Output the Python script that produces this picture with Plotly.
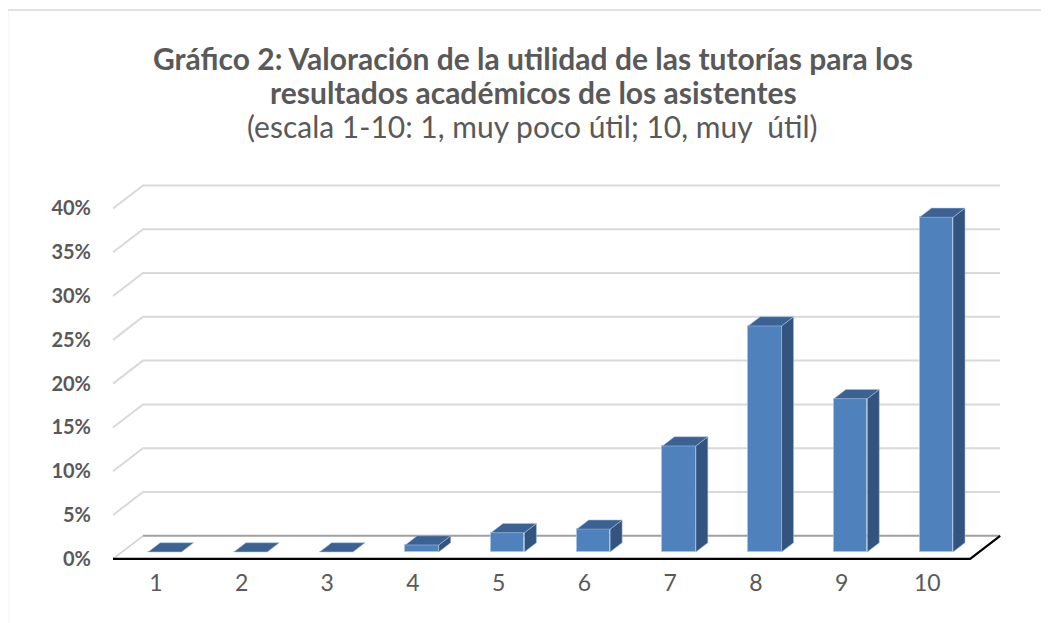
import plotly.graph_objects as go

# ---- data ----
categories = [1, 2, 3, 4, 5, 6, 7, 8, 9, 10]
cat_labels = ["1", "2", "3", "4", "5", "6", "7", "8", "9", "10"]
values = [0.0, 0.0, 0.0, 0.8, 2.2, 2.6, 12.1, 25.8, 17.5, 38.2]
y_ticks = [0, 5, 10, 15, 20, 25, 30, 35, 40]
y_tick_labels = ["0%", "5%", "10%", "15%", "20%", "25%", "30%", "35%", "40%"]

title_1 = "Gráfico 2: Valoración de la utilidad de las tutorías para los"
title_2 = "resultados académicos de los asistentes"
title_3 = "(escala 1-10: 1, muy poco útil; 10, muy  útil)"

# ---- oblique projection (style constants) ----
DX, DY = 0.35, 2.63          # full depth offset in axis units
F1, F2 = 0.30, 0.70          # bar front / back depth fractions
HW = 0.195                   # bar half width
X0, X1 = 0.5, 10.5           # floor extent (front)

FRONT = "#4F81BD"
TOP = "#3B6293"
SIDE = "#33547F"
TXT = "#595959"
EDGE = "rgba(170,195,225,0.7)"

fig = go.Figure()

shapes = []
# back wall gridlines + left wall diagonals (below the bars)
for v in y_ticks[1:]:
    shapes.append(dict(type="path", xref="x", yref="y", layer="below",
                       path=f"M{X0},{v} L{X0 + DX},{v + DY} L{X1 + DX},{v + DY}",
                       line=dict(color="#D9D9D9", width=2)))
# floor
shapes.append(dict(type="path", xref="x", yref="y", layer="below",
                   path=f"M{X0},0 L{X0 + DX},{DY}",
                   line=dict(color="#D0D0D0", width=1.5)))
shapes.append(dict(type="path", xref="x", yref="y", layer="below",
                   path=f"M{X0 + DX},{DY} L{X1 + DX},{DY}",
                   line=dict(color="#A0A0A0", width=2)))
shapes.append(dict(type="path", xref="x", yref="y", layer="below",
                   path=f"M{X0},0 L{X1},0 L{X1 + DX},{DY}",
                   line=dict(color="#000000", width=2.2)))

# bars
fx, fy = F1 * DX, F1 * DY
ddx, ddy = (F2 - F1) * DX, (F2 - F1) * DY
sx, sy, tx, ty = [], [], [], []
for c, v in zip(categories, values):
    xl, xr = c - HW + fx, c + HW + fx
    yb, yt = fy, fy + v
    if v > 0:
        sx += [xr, xr, xr + ddx, xr + ddx, xr, None]
        sy += [yb, yt, yt + ddy, yb + ddy, yb, None]
    tx += [xl, xr, xr + ddx, xl + ddx, xl, None]
    ty += [yt, yt, yt + ddy, yt + ddy, yt, None]

fig.add_trace(go.Bar(x=[c + fx for c in categories], y=values, base=fy,
                     width=2 * HW, marker=dict(color=FRONT, line=dict(color=EDGE, width=1)),
                     showlegend=False, hovertemplate="%{y:.1f}%<extra></extra>"))
fig.add_trace(go.Scatter(x=sx, y=sy, mode="lines", fill="toself",
                         fillcolor=SIDE, line=dict(color=EDGE, width=0.8),
                         hoverinfo="skip", showlegend=False))
fig.add_trace(go.Scatter(x=tx, y=ty, mode="lines", fill="toself",
                         fillcolor=TOP, line=dict(color=EDGE, width=0.8),
                         hoverinfo="skip", showlegend=False))

# layout (screen pixel targets; the page has an 8px body margin)
OFF = 8
W, H = 1049, 623
L, T = 104 - OFF, 178 - OFF
pw, ph = 900, 394
R, B = W - L - pw, H - T - ph

def px_x(p):
    return (p - OFF - L) / pw

def px_y(p):
    return (T + ph - (p - OFF)) / ph

shapes += [
    dict(type="line", xref="paper", yref="paper", x0=px_x(7.5), x1=px_x(7.5),
         y0=px_y(640), y1=px_y(10), line=dict(color="#D9D9D9", width=1.5)),
    dict(type="line", xref="paper", yref="paper", x0=px_x(7.5), x1=px_x(1070),
         y0=px_y(10), y1=px_y(10), line=dict(color="#D9D9D9", width=1.5)),
]

fig.update_layout(
    width=W, height=H,
    margin=dict(l=L, r=R, t=T, b=B, pad=0),
    paper_bgcolor="white", plot_bgcolor="white",
    bargap=0,
    xaxis=dict(range=[0.395, 10.895], tickvals=categories, ticktext=cat_labels,
               showgrid=False, zeroline=False, showline=False, ticks="",
               ticklabelstandoff=-5,
               tickfont=dict(family="Lato", size=23, color=TXT), fixedrange=True),
    yaxis=dict(range=[-1.5, 43.476], tickvals=y_ticks, ticktext=y_tick_labels,
               showgrid=False, zeroline=False, showline=False, ticks="",
               ticklabelstandoff=12,
               tickfont=dict(family="Lato", size=20, color=TXT, weight="bold"),
               fixedrange=True),
    font=dict(family="Lato", color=TXT),
    annotations=[
        dict(text="<b>" + title_1 + "</b>", x=px_x(533), y=px_y(58), xref="paper", yref="paper",
             showarrow=False, xanchor="center", yanchor="middle",
             font=dict(family="Lato", size=30, color=TXT)),
        dict(text="<b>" + title_2 + "</b>", x=px_x(533), y=px_y(92), xref="paper", yref="paper",
             showarrow=False, xanchor="center", yanchor="middle",
             font=dict(family="Lato", size=30, color=TXT)),
        dict(text=title_3, x=px_x(532), y=px_y(126), xref="paper", yref="paper",
             showarrow=False, xanchor="center", yanchor="middle",
             font=dict(family="Lato", size=30, color=TXT)),
    ],
    shapes=shapes,
)

fig.write_html("out.html")
